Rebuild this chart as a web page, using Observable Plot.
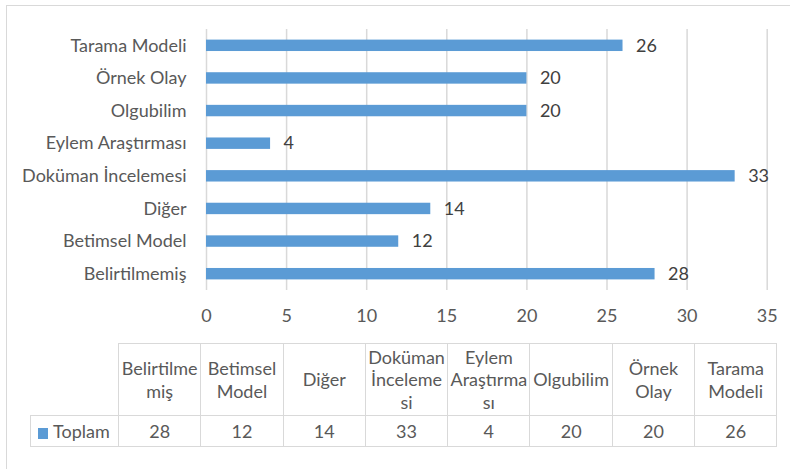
<!DOCTYPE html>
<html>
<head>
<meta charset="utf-8">
<script src="https://cdn.jsdelivr.net/npm/d3@7"></script>
<script src="https://cdn.jsdelivr.net/npm/@observablehq/plot@0.6"></script>
<style>
  html, body { margin: 0; padding: 0; background: #fff; overflow: hidden; }
  #wrap { position: relative; width: 790px; height: 469px; overflow: hidden; font-family: Lato, "Open Sans", sans-serif; color: #595959; }
  #frame { position: absolute; left: 6px; top: 5px; width: 820px; height: 500px; border: 1.5px solid #d9d9d9; box-sizing: border-box; }
  #chart { position: absolute; left: 0; top: 0; }
  #tbl { position: absolute; left: 30px; top: 343px; border-collapse: collapse; table-layout: fixed; font-size: 18px; color: #595959; }
  #tbl td { border: 1.5px solid #d9d9d9; text-align: center; vertical-align: middle; padding: 0; line-height: 22.5px; overflow: visible; white-space: nowrap; }
  #tbl td.empty { border: none; }
  #tbl tr.head td { height: 71px; }
  #tbl tr.vals td { height: 30px; }
  #tbl td.leg { text-align: left; padding-left: 7px; white-space: nowrap; }
  .key { display: inline-block; width: 10px; height: 11px; background: #5b9bd5; margin-right: 5px; vertical-align: -1px; }
</style>
</head>
<body>
<div id="wrap">
  <div id="frame"></div>
  <div id="chart"></div>
  <table id="tbl"></table>
</div>
<script>
const categories = ["Belirtilmemiş", "Betimsel Model", "Diğer", "Doküman İncelemesi", "Eylem Araştırması", "Olgubilim", "Örnek Olay", "Tarama Modeli"];
const values = [28, 12, 14, 33, 4, 20, 20, 26];
const headerLines = [["Belirtilme", "miş"], ["Betimsel", "Model"], ["Diğer"], ["Doküman", "İnceleme", "si"], ["Eylem", "Araştırma", "sı"], ["Olgubilim"], ["Örnek", "Olay"], ["Tarama", "Modeli"]];
const seriesName = "Toplam";
const xTicks = [0, 5, 10, 15, 20, 25, 30, 35];

const data = categories.map((c, i) => ({cat: c, value: values[i]}));

const chart = Plot.plot({
  width: 790,
  height: 335,
  marginLeft: 206,
  marginRight: 23.3,
  marginTop: 29,
  marginBottom: 45,
  style: {fontFamily: "Lato, 'Open Sans', sans-serif", fontSize: "18px", color: "#595959", background: "transparent"},
  x: {domain: [0, 35], round: false},
  y: {domain: categories.slice().reverse(), paddingInner: 0.65, paddingOuter: 0.325, round: false, label: null},
  marks: [
    Plot.gridX(xTicks, {stroke: "#d9d9d9", strokeOpacity: 1, strokeWidth: 1.5}),
    Plot.barX(data, {x: "value", y: "cat", fill: "#5b9bd5"}),
    Plot.text(data, {x: "value", y: "cat", text: d => String(d.value), textAnchor: "start", dx: 13, fill: "#404040", fontSize: 18}),
    Plot.axisX({ticks: xTicks, tickSize: 0, tickPadding: 19, label: null, fontSize: 18}),
    Plot.axisY({tickSize: 0, tickPadding: 20, label: null, fontSize: 18})
  ]
});
document.getElementById("chart").appendChild(chart);

// data table
const tbl = document.getElementById("tbl");
const colgroup = document.createElement("colgroup");
const c0 = document.createElement("col"); c0.style.width = "88px"; colgroup.appendChild(c0);
categories.forEach(() => { const c = document.createElement("col"); c.style.width = "82.3px"; colgroup.appendChild(c); });
tbl.appendChild(colgroup);
const head = document.createElement("tr"); head.className = "head";
const e = document.createElement("td"); e.className = "empty"; head.appendChild(e);
headerLines.forEach(lines => { const td = document.createElement("td"); td.innerHTML = lines.join("<br>"); head.appendChild(td); });
tbl.appendChild(head);
const row = document.createElement("tr"); row.className = "vals";
const leg = document.createElement("td"); leg.className = "leg";
leg.innerHTML = '<span class="key"></span>' + seriesName;
row.appendChild(leg);
values.forEach(v => { const td = document.createElement("td"); td.textContent = v; row.appendChild(td); });
tbl.appendChild(row);
</script>
</body>
</html>
